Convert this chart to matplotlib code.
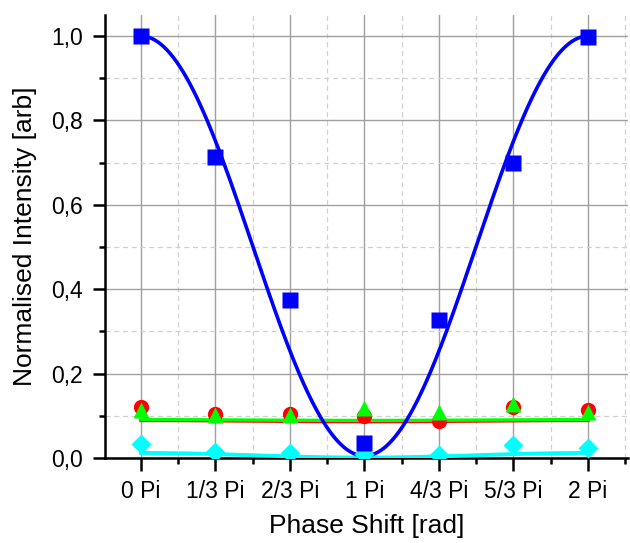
import numpy as np
import matplotlib
matplotlib.use("Agg")
import matplotlib.pyplot as plt
from matplotlib.ticker import FixedLocator, FuncFormatter, MultipleLocator

plt.rcParams['font.family'] = ['Liberation Sans', 'DejaVu Sans']

# Phase positions in units of Pi
phase = [0, 1/3, 2/3, 1, 4/3, 5/3, 2]
tick_labels = ["0 Pi", "1/3 Pi", "2/3 Pi", "1 Pi", "4/3 Pi", "5/3 Pi", "2 Pi"]

blue_vals = [1.000, 0.713, 0.374, 0.035, 0.326, 0.699, 0.998]
red_vals = [0.120, 0.105, 0.105, 0.099, 0.088, 0.121, 0.114]
green_vals = [0.113, 0.102, 0.102, 0.118, 0.110, 0.129, 0.109]
cyan_vals = [0.034, 0.015, 0.012, 0.010, 0.006, 0.031, 0.024]

# fitted cos^2 model parameters: y = offset + amplitude * (1 + cos(x)) / 2
blue_fit = (0.005, 0.995)
red_fit = (0.086, 0.003)
green_fit = (0.089, 0.002)
cyan_fit = (0.001, 0.011)

fig = plt.figure(figsize=(6.30, 5.43), dpi=100)
ax = fig.add_axes([105/630, 1-458/543, (628-105)/630, (458-15)/543])

xs = np.linspace(0, 2, 400)
def model(p):
    return p[0] + p[1] * (1 + np.cos(np.pi * xs)) / 2

ax.plot(xs, model(red_fit), color='#ff0000', lw=2.4, zorder=3)
ax.plot(xs, model(green_fit), color='#00ff00', lw=2.4, zorder=3)
ax.plot(xs, model(cyan_fit), color='#00ffff', lw=2.8, zorder=3)
ax.plot(xs, model(blue_fit), color='#0000ff', lw=2.6, zorder=4)

ax.plot(phase, red_vals, 'o', color='#ff0000', ms=11, mec='none', zorder=5)
ax.plot(phase, green_vals, '^', color='#00ff00', ms=12, mec='none', zorder=6)
ax.plot(phase, cyan_vals, 'D', color='#00ffff', ms=10, mec='none', zorder=6)
ax.plot(phase, blue_vals, 's', color='#0000ff', ms=11, mec='none', zorder=7)

ax.set_xlim(-0.161, 2.179)
ax.set_ylim(0, 1.05)

ax.xaxis.set_major_locator(FixedLocator(phase))
ax.set_xticklabels(tick_labels)
ax.xaxis.set_minor_locator(FixedLocator([1/6, 1/2, 5/6, 7/6, 3/2, 11/6, 13/6]))
ax.yaxis.set_major_locator(MultipleLocator(0.2))
ax.yaxis.set_minor_locator(MultipleLocator(0.1))
ax.yaxis.set_major_formatter(FuncFormatter(lambda v, p: f"{v:.1f}".replace('.', ',')))

ax.grid(True, which='major', color='#a0a0a0', lw=1.0, ls='-')
ax.grid(True, which='minor', color='#d0d0d0', lw=0.9, ls=(0, (4, 3)))
ax.set_axisbelow(True)

for s in ['top', 'right']:
    ax.spines[s].set_visible(False)
for s in ['left', 'bottom']:
    ax.spines[s].set_linewidth(1.8)

ax.tick_params(which='major', direction='out', length=9, width=1.8, labelsize=16.5, pad=7)
ax.tick_params(which='minor', direction='out', length=4, width=1.8)

ax.set_xlabel("Phase Shift [rad]", fontsize=19, labelpad=8)
ax.set_ylabel("Normalised Intensity [arb]", fontsize=19, labelpad=10)

fig.savefig("out.png", dpi=100)
